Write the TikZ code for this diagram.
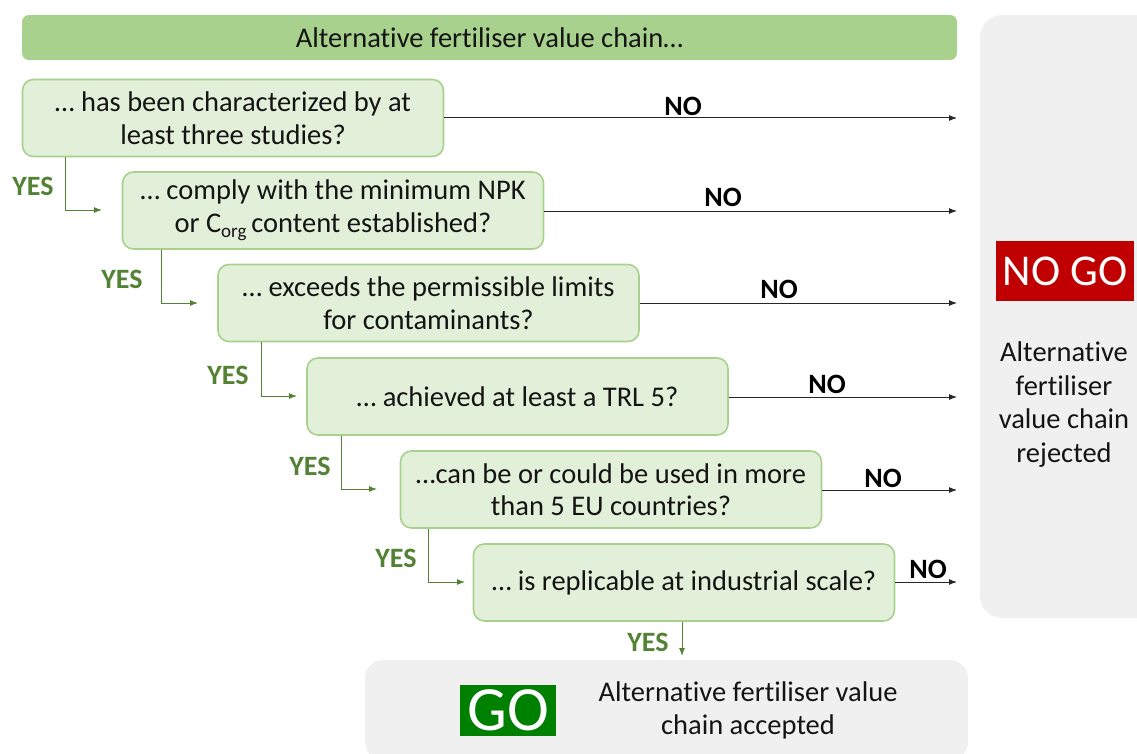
\documentclass[tikz,border=0pt]{standalone}
\usepackage{fontspec}
\setmainfont{Carlito}[Ligatures=NoCommon]
\usetikzlibrary{arrows.meta}
\definecolor{bannergreen}{HTML}{A9D18E}
\definecolor{boxfill}{HTML}{E2F0D9}
\definecolor{boxline}{HTML}{A9D18E}
\definecolor{yesgreen}{HTML}{548235}
\definecolor{panelgray}{HTML}{F0F0F0}
\definecolor{nogored}{HTML}{C00000}
\definecolor{gogreen}{HTML}{008000}
\definecolor{textblack}{HTML}{141414}
\begin{document}
\begin{tikzpicture}[x=1pt,y=-1pt,
  qbox/.style={draw=boxline, line width=1.6pt, fill=boxfill, rounded corners=11pt,
    minimum width=421pt, minimum height=77pt, align=center, inner sep=0pt,
    text=textblack, font=\fontsize{28.5}{32.5}\selectfont},
  nolabel/.style={font=\bfseries\fontsize{28}{30}\selectfont, text=black, inner sep=0pt},
  yeslabel/.style={font=\bfseries\fontsize{28}{30}\selectfont, text=yesgreen, inner sep=0pt},
  noarrow/.style={draw=black!85, line width=1pt, -{Latex[length=8pt,width=6pt]}},
  yesarrow/.style={draw=yesgreen, line width=1pt, -{Latex[length=8pt,width=6pt]}},
  plain/.style={text=textblack, align=center, inner sep=0pt, font=\fontsize{28.5}{33.5}\selectfont}
]
\useasboundingbox (0,0) rectangle (1137,754);

% right NO GO panel
\fill[panelgray, rounded corners=22pt] (1137,15) -- (980,15) -- (980,618) -- (1137,618);
% bottom GO panel
\fill[panelgray, rounded corners=18pt] (365,660) rectangle (968,760);

% banner
\node[fill=bannergreen, rounded corners=7pt, minimum width=935pt, minimum height=45pt, inner sep=0pt,
  font=\fontsize{28.5}{30}\selectfont, text=textblack] (banner) at (489.5,37.5) {Alternative fertiliser value chain\ldots};

% question boxes
\node[qbox] (q1) at (233,118) {\ldots\ has been characterized by at\\least three studies?};
\node[qbox] (q2) at (333,210.5) {\ldots\ comply with the minimum NPK\\or C\raisebox{-0.4ex}{\fontsize{19}{19}\selectfont org}\,content established?};
\node[qbox] (q3) at (428.5,303) {\ldots\ exceeds the permissible limits\\for contaminants?};
\node[qbox] (q4) at (517.5,396.5) {\ldots\ achieved at least a TRL 5?};
\node[qbox] (q5) at (611,489.5) {\ldots can be or could be used in more\\than 5 EU countries?};
\node[qbox] (q6) at (684,582.5) {\ldots\ is replicable at industrial scale?};

% NO targets
\coordinate (n1) at (957,118);
\coordinate (n2) at (957,211);
\coordinate (n3) at (957,303);
\coordinate (n4) at (957,397);
\coordinate (n5) at (957,490);
\coordinate (n6) at (957,582);
\draw[noarrow] (q1.east |- n1) -- (n1);
\draw[noarrow] (q2.east |- n2) -- (n2);
\draw[noarrow] (q3.east |- n3) -- (n3);
\draw[noarrow] (q4.east |- n4) -- (n4);
\draw[noarrow] (q5.east |- n5) -- (n5);
\draw[noarrow] (q6.east |- n6) -- (n6);
\node[nolabel] (no1) at (683,106) {NO};
\node[nolabel] (no2) at (723,197) {NO};
\node[nolabel] (no3) at (779,289) {NO};
\node[nolabel] (no4) at (827,384) {NO};
\node[nolabel] (no5) at (883,478) {NO};
\node[nolabel] (no6) at (928,569) {NO};

% YES connectors
\coordinate (y1) at (102,210);
\coordinate (y2) at (198,303);
\coordinate (y3) at (297,396);
\coordinate (y4) at (377,489);
\coordinate (y5) at (465,582);
\draw[yesarrow] (q1.south -| 65,0) |- (y1);
\draw[yesarrow] (q2.south -| 161,0) |- (y2);
\draw[yesarrow] (q3.south -| 261,0) |- (y3);
\draw[yesarrow] (q4.south -| 341,0) |- (y4);
\draw[yesarrow] (q5.south -| 428,0) |- (y5);
\coordinate (y6) at (682,656);
\draw[yesarrow] (q6.south -| y6) -- (y6);
\node[yeslabel] (yes1) at (33,186) {YES};
\node[yeslabel] (yes2) at (122,279) {YES};
\node[yeslabel] (yes3) at (228,375) {YES};
\node[yeslabel] (yes4) at (310,466) {YES};
\node[yeslabel] (yes5) at (396,558) {YES};
\node[yeslabel] (yes6) at (648,642) {YES};

% NO GO
\node[fill=nogored, minimum width=138pt, minimum height=60pt, inner sep=0pt, text=white,
  font=\fontsize{44}{46}\selectfont] (nogo) at (1065,271) {NO GO};
\node[plain] (rejected) at (1064,404.5) {Alternative\\fertiliser\\value chain\\rejected};

% GO
\node[fill=gogreen, minimum width=96pt, minimum height=51pt, inner sep=0pt, text=white,
  font=\fontsize{63}{65}\selectfont] (go) at (508,710.5) {GO};
\node[plain] (accepted) at (748,710.5) {Alternative fertiliser value\\chain accepted};
\end{tikzpicture}
\end{document}
